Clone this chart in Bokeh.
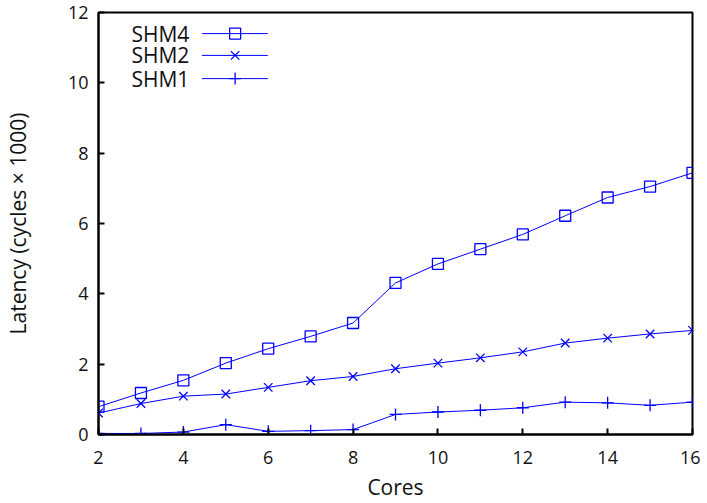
from bokeh.plotting import figure
from bokeh.models import Range1d, FixedTicker, Label
from bokeh.embed import file_html
from bokeh.resources import INLINE

cores = [2, 3, 4, 5, 6, 7, 8, 9, 10, 11, 12, 13, 14, 15, 16]
shm4 = [0.79, 1.18, 1.54, 2.03, 2.44, 2.79, 3.17, 4.31, 4.85, 5.27, 5.69, 6.22, 6.74, 7.05, 7.44]
shm2 = [0.61, 0.88, 1.09, 1.15, 1.34, 1.53, 1.65, 1.87, 2.03, 2.18, 2.35, 2.60, 2.74, 2.86, 2.96]
shm1 = [0.03, 0.03, 0.07, 0.28, 0.09, 0.11, 0.14, 0.57, 0.64, 0.69, 0.76, 0.92, 0.90, 0.83, 0.92]
x_ticks = [2, 4, 6, 8, 10, 12, 14, 16]
y_ticks = [0, 2, 4, 6, 8, 10, 12]
series_names = ["SHM4", "SHM2", "SHM1"]

FONT = "Open Sans"
BLUE = "#0000ff"
TXT = "#111111"

p = figure(width=700, height=503, output_backend="svg", toolbar_location=None,
           x_range=Range1d(2, 16), y_range=Range1d(0, 12),
           min_border_left=96, min_border_top=12, min_border_right=8, min_border_bottom=69)
p.grid.visible = False
p.outline_line_color = "black"
p.outline_line_width = 2
p.outline_line_alpha = 1
p.background_fill_color = "white"
p.border_fill_color = "white"

for ax in (p.xaxis[0], p.yaxis[0]):
    ax.axis_line_color = "black"
    ax.axis_line_width = 2
    ax.major_tick_in = 6
    ax.major_tick_out = 0
    ax.major_tick_line_width = 2
    ax.major_tick_line_color = "black"
    ax.minor_tick_line_color = None
    ax.major_label_text_font = FONT
    ax.major_label_text_font_size = "18px"
    ax.major_label_text_color = TXT
    ax.axis_label_text_font = FONT
    ax.axis_label_text_font_size = "21px"
    ax.axis_label_text_font_style = "normal"
    ax.axis_label_text_color = TXT

p.xaxis.ticker = FixedTicker(ticks=x_ticks)
p.yaxis.ticker = FixedTicker(ticks=y_ticks)
p.xaxis.axis_label = "Cores"
p.yaxis.axis_label = "Latency (cycles \u00d7 1000)"
p.xaxis.major_label_standoff = 16
p.yaxis.major_label_standoff = 10
p.xaxis.axis_label_standoff = 6
p.yaxis.axis_label_standoff = 33

p.line(cores, shm4, line_color=BLUE, line_width=1)
p.scatter(cores, shm4, marker="square", size=11, line_color=BLUE, fill_color=None, line_width=1.3)
p.line(cores, shm2, line_color=BLUE, line_width=1)
p.scatter(cores, shm2, marker="x", size=12, line_color=BLUE, line_width=1.3)
p.line(cores, shm1, line_color=BLUE, line_width=1)
p.scatter(cores, shm1, marker="cross", size=12, line_color=BLUE, line_width=1.3)

# manual legend (label left of sample, gnuplot style)
leg_y = [11.40, 10.78, 10.12]
leg_markers = ["square", "x", "cross"]
leg_sizes = [11, 12, 12]
for name, yy, mk, sz in zip(series_names, leg_y, leg_markers, leg_sizes):
    p.add_layout(Label(x=4.14, y=yy, text=name, text_align="right", text_baseline="middle",
                       text_font=FONT, text_font_size="21px", text_color=TXT))
    p.line([4.44, 5.99], [yy, yy], line_color=BLUE, line_width=1)
    p.scatter([5.22], [yy], marker=mk, size=sz, line_color=BLUE, fill_color=None, line_width=1.3)

open("out.html", "w").write(file_html(p, INLINE))
